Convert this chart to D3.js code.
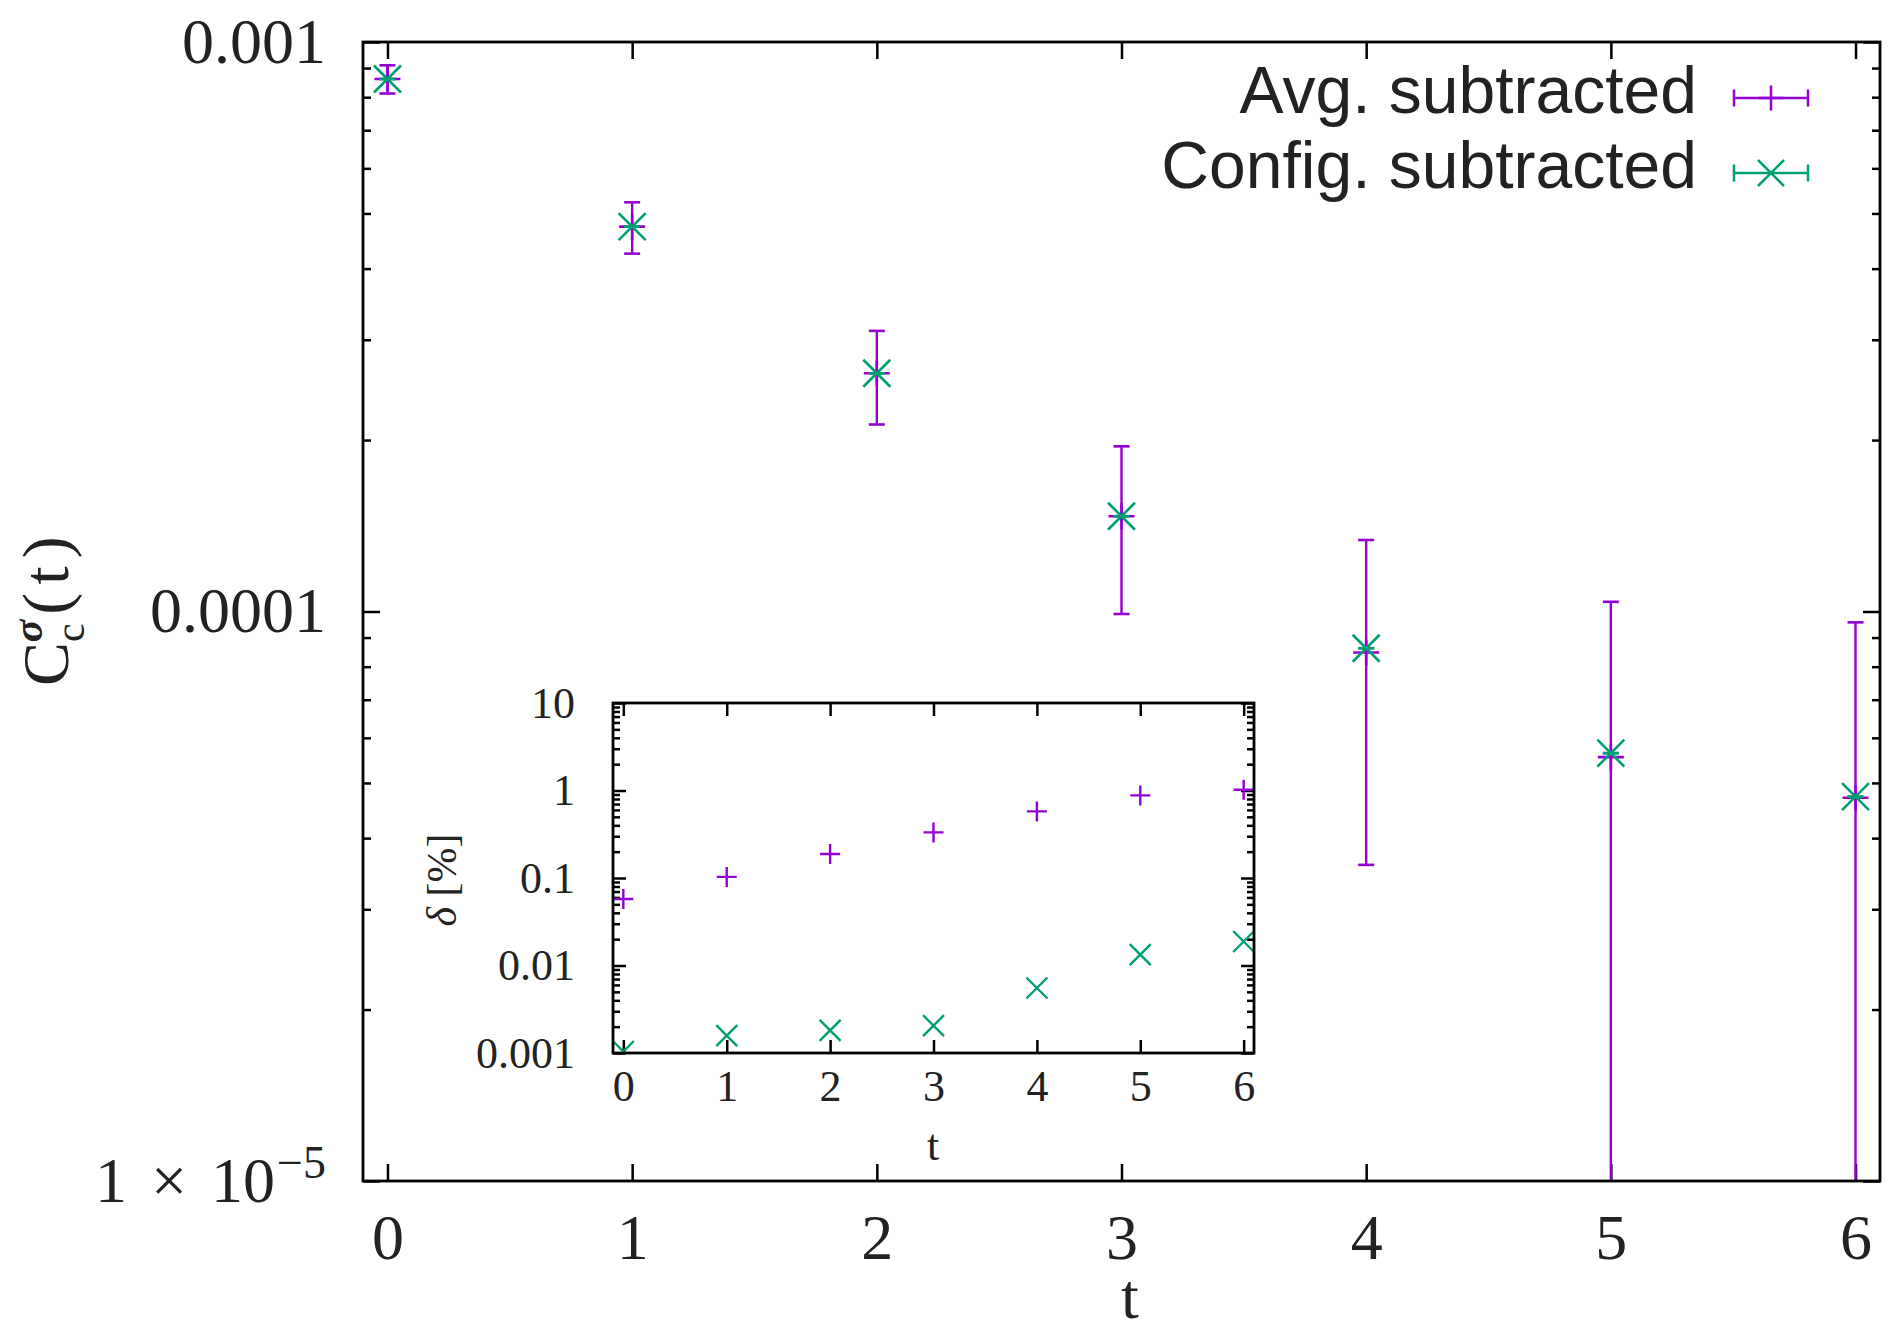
<!DOCTYPE html>
<html lang="en">
<head>
    <meta charset="UTF-8">
    <script type="text/javascript" src="https://cdn.jsdelivr.net/npm/d3@7/dist/d3.min.js"></script>
    <title>C_c sigma (t)</title>
    <style>
        body { margin: 0; background: #fff; }
    </style>
</head>
<body>
<script>
    // data
    let tValues = [0, 1, 2, 3, 4, 5, 6];
    let avgSub = [8.61e-4, 4.74e-4, 2.62e-4, 1.47e-4, 8.47e-5, 5.55e-5, 4.71e-5];
    let avgErr = [4.9e-5, 4.9e-5, 4.9e-5, 4.8e-5, 4.88e-5, 4.85e-5, 4.86e-5];
    let cfgSub = [8.61e-4, 4.74e-4, 2.62e-4, 1.47e-4, 8.62e-5, 5.64e-5, 4.73e-5];
    let cfgErr = [2e-8, 1e-8, 6e-9, 4e-9, 5e-9, 8e-9, 9e-9];
    let deltaAvg = [0.0575, 0.103, 0.188, 0.332, 0.577, 0.879, 1.02];
    let deltaCfg = [0.00104, 0.00158, 0.00181, 0.00205, 0.00553, 0.0133, 0.0188];
    let mainYTicks = [1e-3, 1e-4, 1e-5];
    let mainYLabels = ["0.001", "0.0001", "1e-5"];
    let insetYTicks = [10, 1, 0.1, 0.01, 0.001];
    let insetYLabels = ["10", "1", "0.1", "0.01", "0.001"];
    let legendLabels = ["Avg. subtracted", "Config. subtracted"];

    let purple = "#9400d3";
    let green = "#009e73";
    let serif = "'Liberation Serif', 'DejaVu Serif', serif";
    let sans = "'Liberation Sans', Arial, sans-serif";

    let svg = d3.select("body")
        .append("svg")
        .attr("width", 1895)
        .attr("height", 1336);

    svg.append("rect").attr("width", 1895).attr("height", 1336).attr("fill", "#fff");

    // scales
    let xMain = d3.scaleLinear().domain([-0.1, 6.1]).range([363, 1880]);
    let yMain = d3.scaleLog().domain([1e-5, 1e-3]).range([1181, 42]);
    let xIn = d3.scaleLinear().domain([-0.1, 6.1]).range([613, 1254]);
    let yIn = d3.scaleLog().domain([0.001, 10]).range([1053, 703]);

    function minorTicks(scale) {
        return scale.ticks().filter(v => Math.abs(Math.log10(v) - Math.round(Math.log10(v))) > 1e-9);
    }

    function addAxis(axis, tx, ty, fontSize) {
        let a = svg.append("g")
            .attr("transform", `translate(${tx},${ty})`)
            .call(axis);
        a.select(".domain").remove();
        a.attr("font-family", serif).attr("font-size", fontSize);
        a.selectAll("line").attr("stroke", "#000").attr("stroke-width", 2.5);
        a.selectAll("text").attr("fill", "#222");
        return a;
    }

    function plus(cx, cy, s) {
        return `M${cx - s},${cy}H${cx + s}M${cx},${cy - s}V${cy + s}`;
    }
    function cross(cx, cy, s) {
        return `M${cx - s},${cy - s}L${cx + s},${cy + s}M${cx - s},${cy + s}L${cx + s},${cy - s}`;
    }

    // ---------- main plot ----------
    svg.append("clipPath").attr("id", "clipMain")
        .append("rect")
        .attr("x", xMain.range()[0]).attr("y", yMain.range()[1])
        .attr("width", xMain.range()[1] - xMain.range()[0])
        .attr("height", yMain.range()[0] - yMain.range()[1]);

    // ticks
    addAxis(d3.axisBottom(xMain).tickValues(tValues).tickSize(-17).tickPadding(33).tickFormat(d3.format("d")), 0, 1181, 64);
    addAxis(d3.axisTop(xMain).tickValues(tValues).tickSize(-17).tickFormat(""), 0, 42, 64);
    addAxis(d3.axisLeft(yMain).tickValues(minorTicks(yMain)).tickSize(-8).tickFormat(""), 363, 0, 64);
    addAxis(d3.axisRight(yMain).tickValues(minorTicks(yMain)).tickSize(-8).tickFormat(""), 1880, 0, 64);
    addAxis(d3.axisRight(yMain).tickValues(mainYTicks).tickSize(-17).tickFormat(""), 1880, 0, 64);
    let yl = addAxis(d3.axisLeft(yMain).tickValues(mainYTicks).tickSize(-17).tickPadding(37)
        .tickFormat((d, i) => mainYLabels[i]), 363, 0, 64);

    // 1 × 10^-5 label
    yl.selectAll("text").filter(d => d === 1e-5).each(function () {
        let t = d3.select(this).text(null);
        t.append("tspan").attr("word-spacing", 8).text("1 × 10");
        t.append("tspan").attr("font-size", 46).attr("dx", 2).attr("dy", -24).text("−5");
    });

    function drawSeries(vals, errs, color, marker, size, clipId, xs, ys) {
        let rows = tValues.map((t, i) => ({t: t, v: vals[i], e: errs[i]}));
        let g = svg.append("g")
            .attr("clip-path", `url(#${clipId})`)
            .attr("stroke", color)
            .attr("fill", "none");
        let below = ys.range()[0] + 60;
        g.selectAll(".bar")
            .data(rows)
            .enter()
            .append("line")
            .attr("stroke-width", 2.4)
            .attr("x1", d => xs(d.t)).attr("x2", d => xs(d.t))
            .attr("y1", d => ys(d.v + d.e))
            .attr("y2", d => d.v - d.e > 0 ? ys(d.v - d.e) : below);
        g.selectAll(".capTop")
            .data(rows)
            .enter()
            .append("line")
            .attr("stroke-width", 2.6)
            .attr("x1", d => xs(d.t) - 8).attr("x2", d => xs(d.t) + 8)
            .attr("y1", d => ys(d.v + d.e)).attr("y2", d => ys(d.v + d.e));
        g.selectAll(".capBot")
            .data(rows.filter(d => d.v - d.e > 0))
            .enter()
            .append("line")
            .attr("stroke-width", 2.6)
            .attr("x1", d => xs(d.t) - 8).attr("x2", d => xs(d.t) + 8)
            .attr("y1", d => ys(d.v - d.e)).attr("y2", d => ys(d.v - d.e));
        g.selectAll(".pt")
            .data(rows)
            .enter()
            .append("path")
            .attr("stroke-width", 2.6)
            .attr("d", d => marker(xs(d.t), ys(d.v), size));
    }

    drawSeries(avgSub, avgErr, purple, plus, 13, "clipMain", xMain, yMain);
    drawSeries(cfgSub, cfgErr, green, cross, 13.5, "clipMain", xMain, yMain);

    svg.append("rect")
        .attr("x", 363).attr("y", 42).attr("width", 1880 - 363).attr("height", 1181 - 42)
        .attr("fill", "none").attr("stroke", "#000").attr("stroke-width", 2.8);

    // axis titles
    svg.append("text")
        .attr("x", 1130).attr("y", 1318)
        .attr("text-anchor", "middle")
        .attr("font-family", serif).attr("font-size", 64).attr("fill", "#222")
        .text("t");

    let yt = svg.append("text")
        .attr("transform", "translate(68,686) rotate(-90)")
        .attr("font-family", serif).attr("font-size", 66).attr("fill", "#222");
    yt.append("tspan").text("C");
    yt.append("tspan").attr("font-size", 42).attr("dy", 16).text("c");
    yt.append("tspan").attr("font-size", 42).attr("font-style", "italic").attr("font-weight", "bold")
        .attr("dx", -19).attr("dy", -42).text("σ");
    yt.append("tspan").attr("dx", 5).attr("dy", 26).attr("letter-spacing", 8).text("(t)");

    // legend
    let legendRows = [
        {label: legendLabels[0], color: purple, marker: plus, size: 12.5, y: 98},
        {label: legendLabels[1], color: green, marker: cross, size: 13, y: 173}
    ];
    let lg = svg.append("g");
    lg.selectAll("text")
        .data(legendRows)
        .enter()
        .append("text")
        .attr("x", 1697).attr("y", d => d.y + 15)
        .attr("text-anchor", "end")
        .attr("font-family", sans).attr("font-size", 66).attr("fill", "#222")
        .text(d => d.label);
    legendRows.forEach(d => {
        let s = lg.append("g").attr("stroke", d.color).attr("fill", "none").attr("stroke-width", 2.5);
        s.append("path").attr("d", `M1734,${d.y}H1808M1734,${d.y - 8.5}V${d.y + 8.5}M1808,${d.y - 8.5}V${d.y + 8.5}`);
        s.append("path").attr("d", d.marker(1771, d.y, d.size));
    });

    // ---------- inset ----------
    svg.append("rect")
        .attr("x", 613).attr("y", 703).attr("width", 1254 - 613).attr("height", 1053 - 703)
        .attr("fill", "#fff");

    svg.append("clipPath").attr("id", "clipInset")
        .append("rect")
        .attr("x", 613).attr("y", 703).attr("width", 1254 - 613).attr("height", 1053 - 703);

    addAxis(d3.axisBottom(xIn).tickValues(tValues).tickSize(-13).tickPadding(17).tickFormat(d3.format("d")), 0, 1053, 44);
    addAxis(d3.axisTop(xIn).tickValues(tValues).tickSize(-13).tickFormat(""), 0, 703, 44);
    addAxis(d3.axisLeft(yIn).tickValues(minorTicks(yIn)).tickSize(-7).tickFormat(""), 613, 0, 44);
    addAxis(d3.axisRight(yIn).tickValues(minorTicks(yIn)).tickSize(-7).tickFormat(""), 1254, 0, 44);
    addAxis(d3.axisRight(yIn).tickValues(insetYTicks).tickSize(-13).tickFormat(""), 1254, 0, 44);
    addAxis(d3.axisLeft(yIn).tickValues(insetYTicks).tickSize(-13).tickPadding(38)
        .tickFormat((d, i) => insetYLabels[i]), 613, 0, 44);

    let ig = svg.append("g").attr("clip-path", "url(#clipInset)").attr("fill", "none").attr("stroke-width", 2.4);
    ig.selectAll(".pa")
        .data(tValues)
        .enter()
        .append("path")
        .attr("stroke", purple)
        .attr("d", (t, i) => plus(xIn(t), yIn(deltaAvg[i]), 10));
    ig.selectAll(".pc")
        .data(tValues)
        .enter()
        .append("path")
        .attr("stroke", green)
        .attr("d", (t, i) => cross(xIn(t), yIn(deltaCfg[i]), 10.5));

    svg.append("rect")
        .attr("x", 613).attr("y", 703).attr("width", 1254 - 613).attr("height", 1053 - 703)
        .attr("fill", "none").attr("stroke", "#000").attr("stroke-width", 2.8);

    svg.append("text")
        .attr("x", 933).attr("y", 1160)
        .attr("text-anchor", "middle")
        .attr("font-family", serif).attr("font-size", 44).attr("fill", "#222")
        .text("t");

    let dt = svg.append("text")
        .attr("transform", "translate(456,880) rotate(-90)")
        .attr("text-anchor", "middle")
        .attr("font-family", serif).attr("font-size", 42).attr("fill", "#222");
    dt.append("tspan").attr("font-style", "italic").text("δ");
    dt.append("tspan").text(" [%]");
</script>
</body>
</html>
